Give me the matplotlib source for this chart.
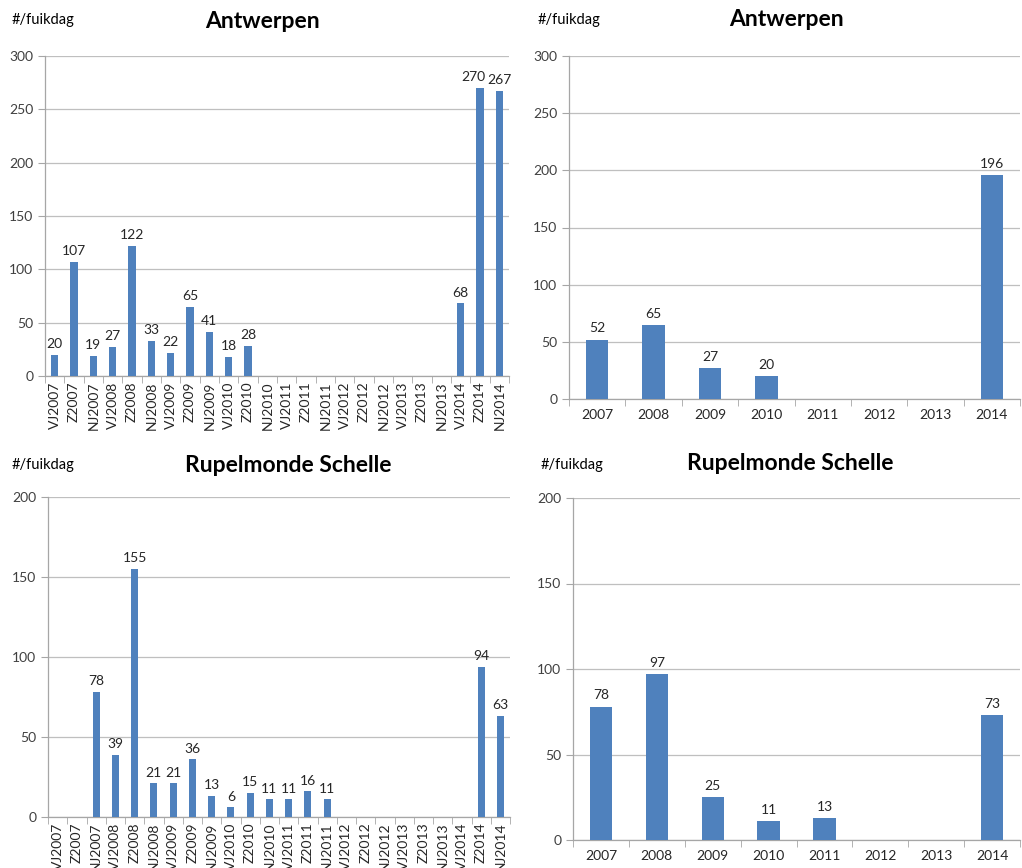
import numpy as np
import matplotlib
matplotlib.use("Agg")
import matplotlib.pyplot as plt
from matplotlib.transforms import offset_copy

plt.rcParams['font.family'] = ['Lato', 'DejaVu Sans']

seasons = ["VJ2007", "Z2007", "NJ2007", "VJ2008", "Z2008", "NJ2008", "VJ2009", "Z2009",
           "NJ2009", "VJ2010", "Z2010", "NJ2010", "VJ2011", "Z2011", "NJ2011", "VJ2012",
           "Z2012", "NJ2012", "VJ2013", "Z2013", "NJ2013", "VJ2014", "Z2014", "NJ2014"]
years = ["2007", "2008", "2009", "2010", "2011", "2012", "2013", "2014"]

antw_season = [20, 107, 19, 27, 122, 33, 22, 65, 41, 18, 28, None, None, None, None, None,
               None, None, None, None, None, 68, 270, 267]
antw_year = [52, 65, 27, 20, None, None, None, 196]
rupel_season = [None, None, 78, 39, 155, 21, 21, 36, 13, 6, 15, 11, 11, 16, 11, None,
                None, None, None, None, None, None, 94, 63]
rupel_year = [78, 97, 25, 11, 13, None, None, 73]

BAR = "#4F81BD"
W, H = 1022, 868
fig = plt.figure(figsize=(W / 100, H / 100), dpi=100)


def make_ax(x0, x1, ytop, ybot):
    return fig.add_axes([x0 / W, (H - ybot) / H, (x1 - x0) / W, (ybot - ytop) / H])


all_labels = []


def draw(ax, cats, vals, ymax, width, rotate, title, title_x, title_y, lab_x, lab_y):
    x = np.arange(len(cats))
    v = np.array([np.nan if a is None else a for a in vals], dtype=float)
    ax.bar(x, np.nan_to_num(v), width=width, color=BAR, zorder=3)
    labels = []
    for xi, vi in zip(x, v):
        if not np.isnan(vi):
            t = ax.text(xi, vi + ymax * 0.015, f"{int(vi)}", ha="center", va="bottom",
                        fontsize=10, color="#262626", zorder=4)
            labels.append(t)
    all_labels.append(labels)
    ax.set_xlim(-0.5, len(cats) - 0.5)
    ax.set_ylim(0, ymax)
    ax.set_yticks(np.arange(0, ymax + 1, 50))
    ax.grid(axis="y", color="#BFBFBF", linewidth=0.9, zorder=0)
    for s in ["top", "right"]:
        ax.spines[s].set_visible(False)
    for s in ["left", "bottom"]:
        ax.spines[s].set_color("#A6A6A6")
        ax.spines[s].set_linewidth(0.9)
    ax.set_xticks(x)
    ax.set_xticklabels(cats, rotation=90 if rotate else 0, fontsize=10,
                       color="#262626")
    ax.set_xticks(np.arange(-0.5, len(cats), 1), minor=True)
    ax.tick_params(axis="x", which="major", length=0, pad=4 if rotate else 7)
    ax.tick_params(axis="x", which="minor", length=5, color="#A6A6A6", direction="out")
    ax.tick_params(axis="y", length=5, color="#A6A6A6", labelsize=10, labelcolor="#404040")
    fig.text(title_x / W, 1 - title_y / H, title, ha="center", va="center",
             fontsize=16.5, fontweight="bold", color="black")
    fig.text(lab_x / W, 1 - lab_y / H, "#/fuikdag", ha="left", va="center",
             fontsize=10.5, color="black")


ax1 = make_ax(45, 509, 56, 376)
draw(ax1, seasons, antw_season, 300, 0.37, True, "Antwerpen", 262, 22, 12, 20)

ax2 = make_ax(569, 1020, 56, 399)
draw(ax2, years, antw_year, 300, 0.4, False, "Antwerpen", 786, 20, 538, 20)

ax3 = make_ax(48, 510, 497, 817)
draw(ax3, seasons, rupel_season, 200, 0.37, True, "Rupelmonde Schelle", 288, 465, 12, 465)

ax4 = make_ax(573, 1020, 498, 840)
draw(ax4, years, rupel_year, 200, 0.4, False, "Rupelmonde Schelle", 790, 463, 541, 465)

# nudge data labels apart when neighbours overlap (like Excel does)
fig.canvas.draw()
renderer = fig.canvas.get_renderer()
for labels in all_labels:
    for a, b in zip(labels[:-1], labels[1:]):
        ba = a.get_window_extent(renderer)
        bb = b.get_window_extent(renderer)
        if ba.overlaps(bb):
            gap = ba.x1 - bb.x0 + 2
            a.set_transform(offset_copy(a.get_transform(), fig=fig, x=-gap * 72 / 100, units="points"))

fig.savefig("out.png", dpi=100)
